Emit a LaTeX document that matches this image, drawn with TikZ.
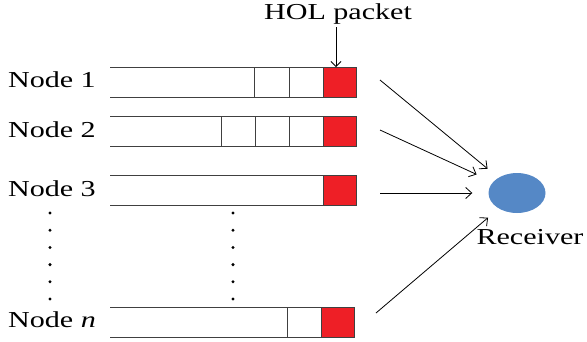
\documentclass[tikz,border=0pt]{standalone}
\usepackage{fontspec}
\setmainfont{Liberation Serif}[FakeStretch=1.32]
\usetikzlibrary{arrows.meta,shapes.geometric}
\definecolor{pktred}{HTML}{EE1F26}
\definecolor{rcvblue}{HTML}{5588C6}
\definecolor{qline}{HTML}{404040}
\begin{document}
\begin{tikzpicture}[x=1pt,y=-1pt,
  lbl/.style={font=\fontsize{22.8}{26}\selectfont, inner sep=0pt},
  qline/.style={draw=qline, line width=0.9pt},
  pkt/.style={fill=pktred, draw=qline, line width=0.8pt},
  dot/.style={fill=black, circle, inner sep=0pt, minimum size=3.3pt},
  link/.style={draw=black, line width=0.8pt, -{Straight Barb[length=6pt,width=11pt]}, shorten >=15pt}]
\useasboundingbox (0,0) rectangle (587,341);
% queue 1
\draw[qline] (110,67) -- (356,67) (110,97) -- (356,97);
\draw[qline] (254,67) -- (254,97) (289,67) -- (289,97);
\draw[pkt] (323,67) rectangle (356,97);
% queue 2
\draw[qline] (110,116) -- (356,116) (110,146) -- (356,146);
\draw[qline] (221,116) -- (221,146) (255,116) -- (255,146) (289,116) -- (289,146);
\draw[pkt] (323,116) rectangle (356,146);
% queue 3
\draw[qline] (110,175) -- (356,175) (110,205) -- (356,205);
\draw[pkt] (323,175) rectangle (356,205);
% queue n
\draw[qline] (110,307) -- (354,307) (110,337) -- (354,337);
\draw[qline] (287,307) -- (287,337);
\draw[pkt] (321,307) rectangle (354,337);
% labels
\node[lbl, anchor=east] (n1) at (96,80) {Node 1};
\node[lbl, anchor=east] (n2) at (96,130) {Node 2};
\node[lbl, anchor=east] (n3) at (96,189) {Node 3};
\node[lbl, anchor=east] (nn) at (96,320) {Node \textit{n}};
% dots
\foreach \i in {0,...,5} {
  \node[dot] (dl\i) at (50,{213+17.2*\i}) {};
  \node[dot] (dm\i) at (233,{213+17.2*\i}) {};
}
% HOL
\node[lbl] (hol) at (338,14) {HOL packet};
\coordinate (holtip) at (336,67);
\draw[line width=0.8pt, -{Straight Barb[length=5pt,width=10pt]}] (336,27) -- (holtip);
% receiver
\node[ellipse, fill=rcvblue, minimum width=57pt, minimum height=40pt, inner sep=0pt] (rcv) at (517,193) {};
\node[lbl] (rlab) at (530,237) {Receiver};
\coordinate (s1) at (380,80);
\coordinate (s2) at (380,130);
\coordinate (s3) at (380,193);
\coordinate (sn) at (376,313);
\draw[link, shorten >=14pt] (s1) -- (rcv);
\draw[link, shorten >=18pt] (s2) -- (rcv);
\draw[link, shorten >=16pt] (s3) -- (rcv);
\draw[link, shorten >=14pt] (sn) -- (rcv);
\end{tikzpicture}
\end{document}
